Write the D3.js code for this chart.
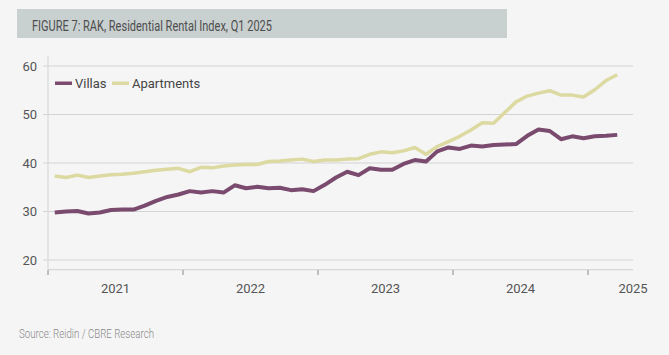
<!DOCTYPE html>
<html><head><meta charset="utf-8">
<script src="https://cdn.jsdelivr.net/npm/d3@7"></script>
<style>
html,body{margin:0;padding:0;background:#f5f5f5;}
svg{display:block;}
</style></head>
<body>
<svg id="chart" width="669" height="355"></svg>
<script>
const title = "FIGURE 7: RAK, Residential Rental Index, Q1 2025";
const source = "Source: Reidin / CBRE Research";
const seriesNames = ["Villas", "Apartments"];
const months = d3.range(51); // Jan 2021 .. Mar 2025 (monthly)
const villas = [29.8,30.0,30.1,29.6,29.8,30.3,30.4,30.4,31.2,32.2,33.0,33.5,34.2,33.9,34.2,33.9,35.4,34.8,35.1,34.8,34.9,34.4,34.6,34.2,35.5,37.0,38.2,37.5,38.9,38.6,38.6,39.8,40.6,40.3,42.4,43.2,42.9,43.6,43.4,43.7,43.8,43.9,45.6,46.9,46.6,44.9,45.5,45.1,45.5,45.6,45.8];
const apartments = [37.3,37.0,37.5,37.0,37.3,37.6,37.7,37.9,38.2,38.5,38.7,38.9,38.2,39.1,39.0,39.4,39.6,39.7,39.7,40.3,40.4,40.6,40.8,40.3,40.6,40.6,40.8,40.9,41.8,42.3,42.1,42.5,43.2,41.8,43.4,44.4,45.5,46.8,48.3,48.2,50.4,52.6,53.8,54.4,54.9,54.0,54.0,53.6,55.1,57.0,58.2];
const yTicks = [20, 30, 40, 50, 60];
const yearLabels = ["2021", "2022", "2023", "2024", "2025"];
const yearLabelPos = [5.4, 17.4, 29.4, 41.4, 51.4];   // month index where label is centred
const yearTickPos = [-0.6, 11.4, 23.4, 35.4, 47.4];   // year boundaries
const colors = {Villas: "#7a4b6e", Apartments: "#dcd9a1"};

const svg = d3.select("#chart");
svg.append("rect").attr("width", 669).attr("height", 355).attr("fill", "#f5f5f5");

// title bar
svg.append("rect").attr("x", 17).attr("y", 9).attr("width", 490).attr("height", 29).attr("fill", "#c9d0d0");
svg.append("text").attr("x", 32).attr("y", 31).text(title)
  .attr("font-family", "Roboto, sans-serif").attr("font-size", 14.5).attr("fill", "#4d4d4d")
  .attr("textLength", 240).attr("lengthAdjust", "spacingAndGlyphs");

const x = d3.scaleLinear().domain([-0.6, 51.4]).range([48, 633]);
const y = d3.scaleLinear().domain([18, 62]).range([269.7, 56.3]);

const g = svg.append("g");
// gridlines
g.selectAll("line.grid").data(yTicks).join("line")
  .attr("x1", 43).attr("x2", 633).attr("y1", d => y(d)).attr("y2", d => y(d))
  .attr("stroke", "#d3d3d3").attr("stroke-width", 1);
// y axis line
g.append("line").attr("x1", 48).attr("x2", 48).attr("y1", y(62)).attr("y2", y(18))
  .attr("stroke", "#d3d3d3");
// x axis line
g.append("line").attr("x1", 48).attr("x2", 633).attr("y1", y(18)).attr("y2", y(18))
  .attr("stroke", "#cfcfcf");
// y labels
g.selectAll("text.yl").data(yTicks).join("text")
  .attr("x", 37).attr("y", d => y(d) + 4.5).attr("text-anchor", "end")
  .attr("font-family", "Roboto, sans-serif").attr("font-size", 13).attr("fill", "#555")
  .text(d => d);
// x ticks
g.selectAll("line.xt").data(yearTickPos).join("line")
  .attr("x1", d => x(d)).attr("x2", d => x(d)).attr("y1", 270).attr("y2", 275)
  .attr("stroke", "#888").attr("stroke-width", 1);
// x labels
g.selectAll("text.xl").data(yearLabels).join("text")
  .attr("x", (d, i) => x(yearLabelPos[i])).attr("y", 293).attr("text-anchor", "middle")
  .attr("font-family", "Roboto, sans-serif").attr("font-size", 13).attr("fill", "#555")
  .text(d => d);

const line = d3.line().x((d, i) => x(months[i])).y(d => y(d));
g.append("path").datum(apartments).attr("d", line).attr("fill", "none")
  .attr("stroke", colors.Apartments).attr("stroke-width", 3.5).attr("stroke-linejoin", "round");
g.append("path").datum(villas).attr("d", line).attr("fill", "none")
  .attr("stroke", colors.Villas).attr("stroke-width", 4).attr("stroke-linejoin", "round");

// legend
const leg = [{n: "Villas", x: 55}, {n: "Apartments", x: 112}];
leg.forEach(l => {
  svg.append("rect").attr("x", l.x).attr("y", 81.5).attr("width", 17).attr("height", 3.5).attr("fill", colors[l.n]);
  svg.append("text").attr("x", l.x + 20).attr("y", 88).text(l.n)
    .attr("font-family", "Roboto, sans-serif").attr("font-size", 13).attr("fill", "#444");
});

// source
svg.append("text").attr("x", 19).attr("y", 338).text(source)
  .attr("font-family", "Roboto, sans-serif").attr("font-weight", 300).attr("font-size", 12.5).attr("fill", "#8a8a8a")
  .attr("textLength", 135).attr("lengthAdjust", "spacingAndGlyphs");
</script>
</body></html>
